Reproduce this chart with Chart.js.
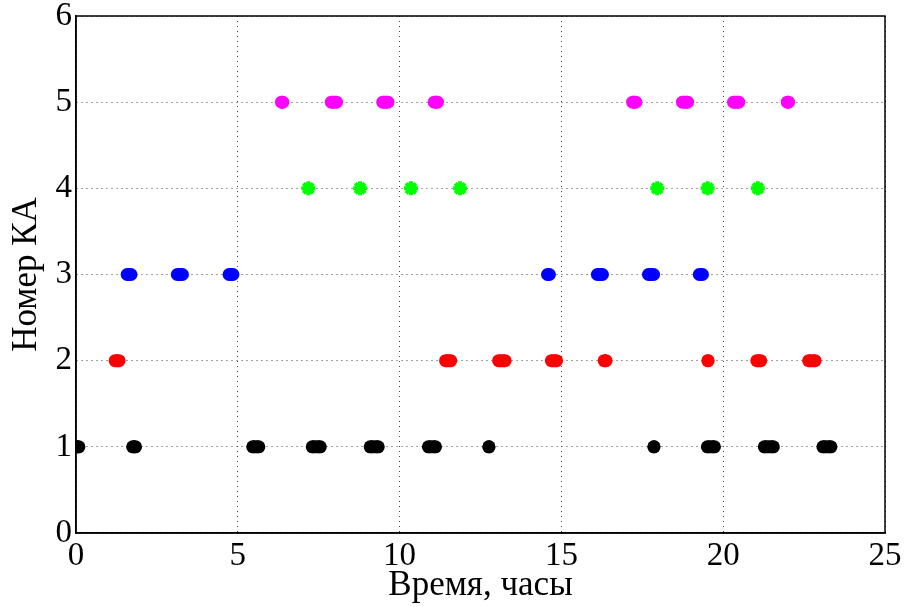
<!DOCTYPE html>
<html>
<head>
<meta charset="utf-8">
<script src="https://cdn.jsdelivr.net/npm/chart.js@4/dist/chart.umd.min.js"></script>
<style>
  html, body { margin: 0; padding: 0; background: #fff; }
  #wrap { width: 906px; height: 607px; }
</style>
</head>
<body>
<div id="wrap"><canvas id="chart" width="906" height="607"></canvas></div>
<script>
// Номер КА по оси Y, время (часы) по оси X
const xTicks = [0, 5, 10, 15, 20, 25];
const yTicks = [0, 1, 2, 3, 4, 5, 6];

// сеансы видимости: начало и конец (часы)
const ka1Start = [0.03, 1.75, 5.46, 7.30, 9.09, 10.89, 12.76, 17.86, 19.51, 21.27, 23.08];
const ka1End   = [0.09, 1.84, 5.65, 7.55, 9.34, 11.11, 12.76, 17.86, 19.73, 21.55, 23.33];

const ka2Start = [1.21, 11.42, 13.06, 14.69, 16.32, 19.53, 21.04, 22.64];
const ka2End   = [1.33, 11.58, 13.26, 14.85, 16.38, 19.53, 21.16, 22.84];

const ka3Start = [1.58, 3.13, 4.73, 14.57, 16.11, 17.69, 19.26];
const ka3End   = [1.70, 3.29, 4.85, 14.63, 16.27, 17.85, 19.36];

const ka4Time  = [7.18, 8.78, 10.35, 11.87, 17.96, 19.52, 21.07];

const ka5Start = [6.35, 7.89, 9.48, 11.07, 17.20, 18.74, 20.32, 21.98];
const ka5End   = [6.39, 8.05, 9.64, 11.17, 17.30, 18.90, 20.48, 22.02];

// отрезок на каждый сеанс, разрыв между сеансами (y = null)
function passes(starts, ends, ka) {
  const pts = [];
  starts.forEach((s, i) => {
    pts.push({ x: s, y: ka });
    pts.push({ x: ends[i], y: ka });
    pts.push({ x: ends[i], y: null });
  });
  return pts;
}

function passSet(starts, ends, ka, color) {
  return {
    data: passes(starts, ends, ka),
    showLine: true,
    spanGaps: false,
    borderColor: color,
    backgroundColor: color,
    borderWidth: 13,
    borderCapStyle: 'butt',
    pointRadius: 6.5,
    pointBorderWidth: 0,
    pointHoverRadius: 6.5
  };
}

// рамка вокруг области графика (как box on)
const boxPlugin = {
  id: 'box',
  afterDraw(chart) {
    const a = chart.chartArea;
    const ctx = chart.ctx;
    ctx.save();
    ctx.strokeStyle = '#000';
    ctx.lineWidth = 1.5;
    ctx.strokeRect(a.left, a.top, a.right - a.left, a.bottom - a.top);
    ctx.restore();
  }
};

const fontFamily = '"Liberation Serif", "Times New Roman", serif';

new Chart(document.getElementById('chart').getContext('2d'), {
  type: 'scatter',
  data: {
    datasets: [
      passSet(ka1Start, ka1End, 1, '#000000'),
      passSet(ka2Start, ka2End, 2, '#ff0000'),
      passSet(ka3Start, ka3End, 3, '#0000ff'),
      {
        data: ka4Time.map(t => ({ x: t, y: 4 })),
        pointStyle: 'star',
        pointRadius: 7,
        pointBorderWidth: 4,
        borderColor: '#00ff00',
        backgroundColor: '#00ff00'
      },
      passSet(ka5Start, ka5End, 5, '#ff00ff')
    ]
  },
  options: {
    responsive: false,
    animation: false,
    events: [],
    layout: { padding: { top: 16, right: 21, left: 0, bottom: 0 } },
    plugins: {
      legend: { display: false },
      tooltip: { enabled: false }
    },
    scales: {
      x: {
        type: 'linear',
        min: 0,
        max: 25,
        afterBuildTicks: s => { s.ticks = xTicks.map(v => ({ value: v })); },
        afterFit: s => { s.height = 74; s.paddingLeft = 0; s.paddingRight = 0; },
        ticks: {
          color: '#000',
          font: { family: fontFamily, size: 33 },
          padding: 4,
          maxRotation: 0
        },
        grid: { color: '#444', lineWidth: 1, tickLength: 0 },
        border: { display: true, color: '#000', width: 1.5, dash: [1, 4] },
        title: {
          display: true,
          text: 'Время, часы',
          color: '#000',
          font: { family: fontFamily, size: 35 },
          padding: { top: 0, bottom: 0 }
        }
      },
      y: {
        type: 'linear',
        min: 0,
        max: 6,
        afterBuildTicks: s => { s.ticks = yTicks.map(v => ({ value: v })); },
        afterFit: s => { s.width = 76; s.paddingTop = 0; s.paddingBottom = 0; },
        ticks: {
          color: '#000',
          font: { family: fontFamily, size: 33 },
          padding: 4
        },
        grid: { color: '#444', lineWidth: 1, tickLength: 0 },
        border: { display: true, color: '#000', width: 1.5, dash: [1, 4] },
        title: {
          display: true,
          text: 'Номер КА',
          color: '#000',
          font: { family: fontFamily, size: 35 },
          padding: { top: 6, bottom: 0 }
        }
      }
    }
  },
  plugins: [boxPlugin]
});
</script>
</body>
</html>
